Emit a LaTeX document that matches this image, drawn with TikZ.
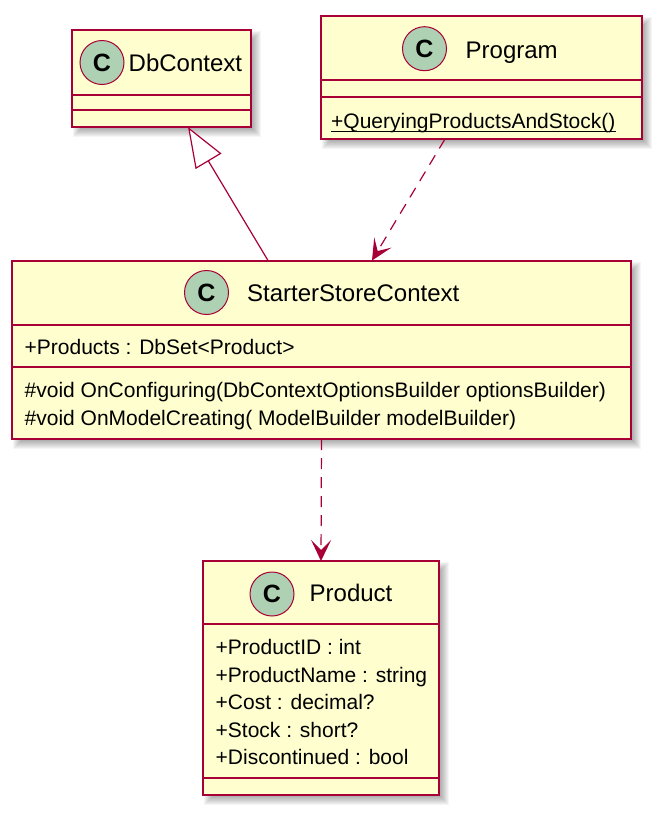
\documentclass[tikz,border=0pt]{standalone}
\usepackage{fontspec}
\setmainfont{Liberation Sans}
\usetikzlibrary{arrows.meta}
\definecolor{umlred}{HTML}{A80036}
\definecolor{umlfill}{HTML}{FEFECE}
\definecolor{umlcirc}{HTML}{ADD1B2}
\newcommand{\umlshadow}[4]{%
  \foreach \k in {0,...,9}{%
    \fill[black, opacity=0.04] (#1+1+\k, #2+1+\k) rectangle (#3+10-\k, #4+10-\k);
  }}
\tikzset{
  classbox/.style={draw=umlred, fill=umlfill, line width=2pt, rectangle, inner sep=0pt, outer sep=0pt},
  sepline/.style={draw=umlred, line width=2pt},
  circC/.style={circle, draw=umlred, fill=umlcirc, line width=1pt, minimum size=44pt, inner sep=0pt, font=\bfseries\fontsize{25}{30}\selectfont},
  cname/.style={anchor=base west, inner sep=0pt, font=\fontsize{24}{28}\selectfont},
  member/.style={anchor=base west, inner sep=0pt, font=\fontsize{21}{25}\selectfont},
  conn/.style={draw=umlred, line width=1.2pt},
  dep/.style={conn, dash pattern=on 11pt off 8pt, -{Stealth[length=21pt,width=20pt,inset=10pt]}},
  inh/.style={conn, -{Triangle[length=40pt,width=30pt,fill=white]}},
}
\begin{document}
\begin{tikzpicture}[x=1pt, y=-1pt]
\useasboundingbox (0,0) rectangle (661,814);
% shadows
\umlshadow{72}{30}{251}{127}
\umlshadow{321}{16}{642}{139}
\umlshadow{12}{260.5}{631}{439}
\umlshadow{203}{561}{439}{795}
% boxes
\node[classbox, minimum width=179pt, minimum height=97pt] (dbc) at (161.5,78.5) {};
\node[classbox, minimum width=321pt, minimum height=123pt] (prog) at (481.5,77.5) {};
\node[classbox, minimum width=619pt, minimum height=178.5pt] (ssc) at (321.5,349.75) {};
\node[classbox, minimum width=236pt, minimum height=234pt] (prod) at (321,678) {};
% separators
\draw[sepline] ([yshift=-65pt]dbc.north west) -- ([yshift=-65pt]dbc.north east);
\draw[sepline] ([yshift=-80pt]dbc.north west) -- ([yshift=-80pt]dbc.north east);
\draw[sepline] ([yshift=-64pt]prog.north west) -- ([yshift=-64pt]prog.north east);
\draw[sepline] ([yshift=-81pt]prog.north west) -- ([yshift=-81pt]prog.north east);
\draw[sepline] ([yshift=-64.2pt]ssc.north west) -- ([yshift=-64.2pt]ssc.north east);
\draw[sepline] ([yshift=-106.5pt]ssc.north west) -- ([yshift=-106.5pt]ssc.north east);
\draw[sepline] ([yshift=-63pt]prod.north west) -- ([yshift=-63pt]prod.north east);
\draw[sepline] ([yshift=-217pt]prod.north west) -- ([yshift=-217pt]prod.north east);
% class circles
\node[circC] (dbcC) at (102,62.5) {C};
\node[circC] (progC) at (424.5,48.7) {C};
\node[circC] (sscC) at (206.5,292.5) {C};
\node[circC] (prodC) at (272,594) {C};
% names
\node[cname] (dbcN) at (128.5,71.7) {DbContext};
\node[cname] (progN) at (465.5,58.3) {Program};
\node[cname] (sscN) at (247,301.7) {StarterStoreContext};
\node[cname] (prodN) at (309.5,601.5) {Product};
% members
\node[member] (progM) at (331,128) {+QueryingProductsAndStock()};
\draw[line width=1.1pt] ([yshift=-3.5pt]progM.base west) -- ([yshift=-3.5pt]progM.base east);
\node[member] (sscA) at (24.5,354) {+Products : DbSet<Product>};
\node[member] (sscM1) at (24.5,397.7) {\#void OnConfiguring(DbContextOptionsBuilder optionsBuilder)};
\node[member] (sscM2) at (24.5,425.2) {\#void OnModelCreating( ModelBuilder modelBuilder)};
\node[member] (prodA1) at (215.5,654.5) {+ProductID : int};
\node[member] (prodA2) at (215.5,682) {+ProductName : string};
\node[member] (prodA3) at (215.5,709.5) {+Cost : decimal?};
\node[member] (prodA4) at (215.5,737) {+Stock : short?};
\node[member] (prodA5) at (215.5,764.5) {+Discontinued : bool};
% connectors
\draw[inh] ([xshift=-53.5pt]ssc.north) -- ([xshift=26.5pt]dbc.south);
\draw[dep] ([xshift=-36.5pt]prog.south) -- ([xshift=50.5pt]ssc.north);
\draw[dep] (ssc.south) -- (prod.north);
\end{tikzpicture}
\end{document}
